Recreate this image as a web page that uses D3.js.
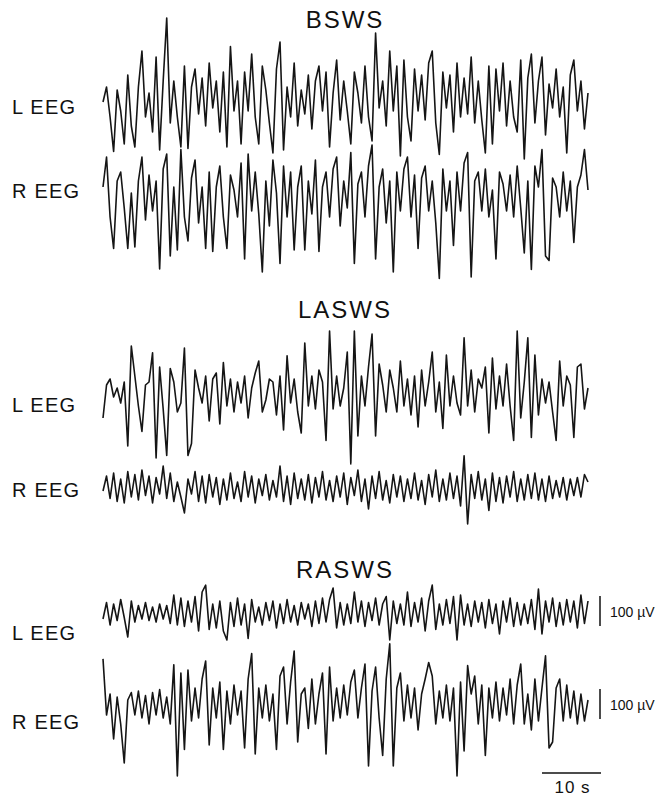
<!DOCTYPE html>
<html>
<head>
<meta charset="utf-8">
<script src="https://cdn.jsdelivr.net/npm/d3@7"></script>
<style>
  html, body { margin: 0; padding: 0; background: #fff; }
  svg { display: block; font-family: "Liberation Sans", Arial, sans-serif; }
</style>
</head>
<body>
<svg id="chart" width="660" height="796"></svg>
<script>
// Sampling interval of every trace, seconds
const sampleInterval = 0.6;

// Stage titles and channel names
const stages = ["BSWS", "LASWS", "RASWS"];
const channels = ["L EEG", "R EEG"];

// EEG amplitude (µV), one value per sample
const bswsLeft = [
  -10, 40, -60, -175, 30, -40, -150, 80, -90, -160, 40, 160,
  -60, 20, -110, 140, -170, 60, 270, -80, 60, -60, -160, 110,
  -165, 40, 100, -50, 70, -90, 120, -30, 60, -110, 90, -160,
  175, -40, 60, -150, 90, -40, 150, -60, -150, 110, 30, -80,
  -180, 100, 190, -170, 40, -60, 120, -90, 30, -50, 80, -100,
  60, 110, -40, 90, -160, 20, 130, -70, 60, -40, -150, 90,
  20, -80, 110, -60, -140, 220, -30, 60, -90, 160, -40, 110,
  -190, 130, -60, -140, 100, -40, 80, -70, 120, 160, -80, -185,
  90, -30, 80, -110, 120, -60, 70, -50, 140, -80, 60, -70,
  -180, 110, -150, 100, -40, 120, -90, 60, -60, -110, 130, -200,
  70, 150, -80, 60, 140, -120, 50, -30, 100, -60, 40, -180,
  80, 130, -40, 60, -100, 20
];
const bswsRight = [
  40, 140, -60, -165, 60, 90, -30, -165, 20, -160, 60, 140,
  -70, 80, -40, 60, -233, 100, 150, -190, 40, -170, 165, -60,
  -140, 70, 130, -80, 40, -165, 90, -175, 40, 110, -60, -165,
  80, 30, -60, 120, -200, 150, -40, 90, -50, -243, 60, -90,
  130, 20, -215, 110, -60, 90, -170, 40, 110, -170, 60, -50,
  130, -175, 40, 90, -60, 100, 140, -90, 60, -30, 155, -215,
  50, 90, -60, 110, 180, -200, 40, 100, -80, 60, -243, 90,
  -40, 100, 140, -60, 80, -165, 70, 110, -40, 60, -80, -265,
  100, -40, 60, -155, 90, -40, 120, 155, -260, 60, 90, -40,
  100, -60, 30, -200, 90, 50, -40, 80, -60, 110, -30, -180,
  60, -235, 110, 40, 165, -190, -205, 70, 40, -60, 90, -40,
  60, -145, 40, 80, 165, 30
];
const laswsLeft = [
  -80, 30, 50, -10, 20, -30, 40, -173, 160, 60, -40, -125,
  30, 40, 137, -213, 90, -50, -205, 85, 40, -60, -30, 153,
  -205, -165, 80, 20, -30, 60, -90, 50, 70, -100, 105, -40,
  50, -60, 40, -30, 60, -80, 20, 70, 110, -60, -20, 50,
  40, -70, 60, -120, 127, -30, 50, -60, -130, 170, -40, 60,
  -50, 80, 40, -155, 210, -50, 60, -40, 20, 140, -233, 210,
  -140, 60, -40, 90, 200, -140, 100, 30, -60, 80, 20, -60,
  110, -40, 50, -70, 60, -110, 80, -40, 40, 140, -60, 40,
  -115, 130, -40, 60, -30, -70, 187, -40, 80, -60, 50, 20,
  90, -130, 120, -50, 60, -40, 100, -40, -155, 210, -80, 40,
  187, -145, 130, -70, 50, -30, 40, -60, -155, 110, -40, 60,
  30, -145, 90, 100, -50, 20
];
const laswsRight = [
  -10, 40, -35, 50, -45, 30, -50, 55, -30, 45, -40, 60,
  -25, 40, -50, 35, -20, 73, -35, 50, -45, 20, -30, -83,
  30, -20, 55, -45, 40, -50, 45, -30, 35, -55, 30, -40,
  50, -35, 20, -45, 55, -30, 40, -50, 30, -25, 45, -40,
  25, -30, 73, -45, 40, -55, 50, -35, 30, -40, 45, -50,
  35, -30, 55, -40, 25, -45, 40, -30, 50, -55, 35, -25,
  60, -45, 30, -70, 40, -35, 55, -40, 25, -50, 45, -30,
  40, -45, 30, -35, 50, -40, 25, -55, 45, -30, 60, -45,
  30, -40, 50, -35, 40, -60, 107, -120, 45, -35, 55, -40,
  30, -75, 50, -45, 35, -50, 40, -30, 55, -45, 30, -40,
  45, -35, 50, -40, 30, -45, 40, -35, 25, -30, 35, -40,
  30, -25, 35, -30, 45, 20
];
const raswsLeft = [
  -20, 35, -40, 30, -25, 45, -15, -80, 40, -30, 25, -20,
  35, -25, 20, -30, 30, -20, 25, -35, 60, -40, 50, -45,
  40, -30, 55, -60, 70, 93, -55, 30, -50, 40, -60, -90,
  35, -45, 50, -40, 30, -85, 45, -30, 20, -40, 35, -25,
  40, -50, 30, -35, 45, -30, 25, -40, 35, -20, 30, -45,
  40, -35, 50, -30, 45, 83, -50, 35, -40, 30, -35, 70,
  -30, 40, -45, 35, -25, 50, -40, 30, 55, -90, 40, -35,
  30, -40, 70, -45, 35, -30, 50, -60, 40, 93, -55, 30,
  -40, 45, -35, 55, -90, 60, -40, 30, -45, 40, -30, 35,
  -50, 45, -35, 30, -70, 40, -30, 50, -45, 35, -40, 30,
  -35, 45, -55, 80, -70, 40, -30, 50, -45, 35, -40, 45,
  -30, 40, -50, 60, -35, 40
];
const raswsRight = [
  157, -30, 40, -110, 30, -60, -190, 20, 45, -30, 50, -40,
  35, -60, 45, -30, 55, -40, 30, -60, 137, -233, 110, -145,
  120, -50, 60, -40, 90, 150, -130, 60, -40, 80, -145, 50,
  -60, 70, -30, 50, -140, 90, 175, -160, 60, -40, 70, -50,
  40, -145, 100, 130, -60, 80, 183, -120, 40, 60, -75, 90,
  -60, 40, 110, -160, 130, -50, 60, -40, 70, -30, 80, 120,
  -40, 60, 140, -200, 50, 130, -40, -165, 90, 207, -200, 60,
  110, -50, 70, -40, 60, -80, 40, 90, 145, 100, -60, 50,
  -40, 70, -50, 60, -233, 80, -150, 135, 40, 100, -60, 70,
  -165, 60, -40, 80, -50, 60, -30, 90, -60, 70, 140, -60,
  40, -80, 90, -50, 60, 167, -140, -120, 60, 90, -50, 70,
  -40, 50, -60, 40, -50, 20
];

// Scale-bar sizes
const ampBar = 100;   // µV
const timeBar = 10;   // s

const svg = d3.select("#chart");

// Shared horizontal scale: seconds -> pixels
const duration = (bswsLeft.length - 1) * sampleInterval;
const x = d3.scaleLinear().domain([0, duration]).range([103, 588]);
const pxPerSec = (x(1) - x(0));

// Amplitude: 100 µV spans 30 px (positive up)
const ampPx = 30 / 100;

// Panel layout: title baseline and the baseline of each channel
const panels = [
  { title: stages[0], titleY: 28,  traces: [
    { label: channels[0], data: bswsLeft,  center: 99,  labelY: 114 },
    { label: channels[1], data: bswsRight, center: 199, labelY: 198 } ] },
  { title: stages[1], titleY: 318, traces: [
    { label: channels[0], data: laswsLeft,  center: 394, labelY: 412 },
    { label: channels[1], data: laswsRight, center: 488, labelY: 497 } ] },
  { title: stages[2], titleY: 578, traces: [
    { label: channels[0], data: raswsLeft,  center: 613, labelY: 640, bar: true },
    { label: channels[1], data: raswsRight, center: 706, labelY: 729, bar: true } ] }
];

panels.forEach(p => {
  svg.append("text")
    .attr("x", 345).attr("y", p.titleY)
    .attr("text-anchor", "middle")
    .attr("font-size", 24)
    .attr("letter-spacing", 2)
    .attr("fill", "#111")
    .text(p.title);

  p.traces.forEach(tr => {
    const y = d3.scaleLinear()
      .domain([-100, 100])
      .range([tr.center + 100 * ampPx, tr.center - 100 * ampPx]);

    const line = d3.line()
      .x((d, i) => x(i * sampleInterval))
      .y(d => y(d))
      .curve(d3.curveLinear);

    svg.append("path")
      .datum(tr.data)
      .attr("d", line)
      .attr("fill", "none")
      .attr("stroke", "#151515")
      .attr("stroke-width", 1.6)
      .attr("stroke-linejoin", "round");

    svg.append("text")
      .attr("x", 12).attr("y", tr.labelY)
      .attr("font-size", 20)
      .attr("letter-spacing", 1.2)
      .attr("fill", "#111")
      .text(tr.label);

    if (tr.bar) {
      // 100 µV vertical calibration bar
      const barX = 600;
      const top = y(ampBar / 2), bottom = y(-ampBar / 2);
      svg.append("line")
        .attr("x1", barX).attr("x2", barX)
        .attr("y1", top - 2).attr("y2", bottom - 2)
        .attr("stroke", "#111").attr("stroke-width", 1.5);
      svg.append("text")
        .attr("x", 610).attr("y", tr.center + 4)
        .attr("font-size", 14)
        .attr("fill", "#111")
        .text(ampBar + " µV");
    }
  });
});

// 10 s horizontal time bar
const tbRight = 601;
const tbLeft = tbRight - timeBar * pxPerSec;
svg.append("line")
  .attr("x1", tbLeft).attr("x2", tbRight)
  .attr("y1", 773).attr("y2", 773)
  .attr("stroke", "#111").attr("stroke-width", 1.5);
svg.append("text")
  .attr("x", (tbLeft + tbRight) / 2 + 1).attr("y", 793)
  .attr("text-anchor", "middle")
  .attr("font-size", 17)
  .attr("letter-spacing", 1)
  .attr("fill", "#111")
  .text(timeBar + " s");
</script>
</body>
</html>
